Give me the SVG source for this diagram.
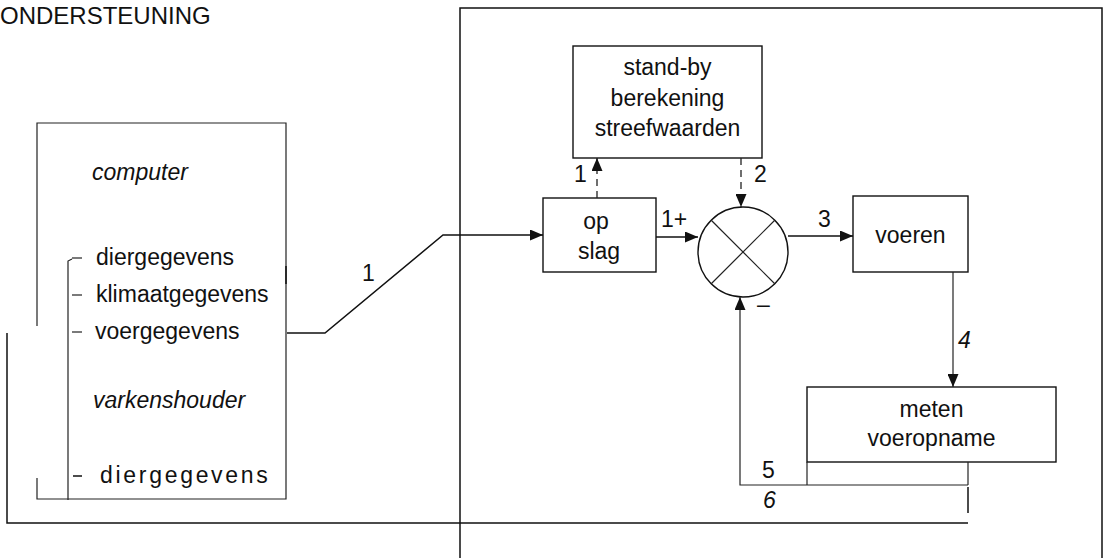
<svg xmlns="http://www.w3.org/2000/svg" width="1107" height="558" viewBox="0 0 1107 558">
  <style>
    .t { font-family: "Liberation Sans", Arial, sans-serif; font-size: 23px; fill: #111; }
    .i { font-style: italic; }
    .c { text-anchor: middle; }
    .box { fill: none; stroke: #111; stroke-width: 1.4; }
    .ln { fill: none; stroke: #111; stroke-width: 1.5; }
    .thin { fill: none; stroke: #222; stroke-width: 1.2; }
    .dash { fill: none; stroke: #222; stroke-width: 1.3; stroke-dasharray: 7 5; }
  </style>
  <defs>
    <marker id="arr" viewBox="0 0 13 11" refX="13" refY="5.5" markerWidth="13" markerHeight="11" markerUnits="userSpaceOnUse" orient="auto">
      <path d="M0,0 L13,5.5 L0,11 Z" fill="#111"/>
    </marker>
  </defs>

  <rect width="1107" height="558" fill="#fff"/>

  <!-- title -->
  <text class="t" x="0" y="24" style="font-size:24px">ONDERSTEUNING</text>

  <!-- process frame -->
  <g id="frame">
    <polyline class="ln" points="460,558 460,8 1102,8 1102,558"/>
  </g>

  <!-- outer return bracket -->
  <g id="outer-bracket">
    <polyline class="ln" points="7,333 7,523 968,523"/>
  </g>

  <!-- computer / farmer data block -->
  <g id="computer">
    <polyline class="thin" points="37,326 37,123 286,123 286,499 37,499 37,478"/>
    <line class="ln" x1="286" y1="266" x2="286" y2="284" stroke-width="2.4"/>
    <polyline class="thin" points="72,259 68,261 68,500"/>
    <text class="t i" x="92" y="180">computer</text>
    <line class="thin" x1="72" y1="258" x2="82" y2="258"/>
    <text class="t" x="96" y="265">diergegevens</text>
    <line class="thin" x1="72" y1="295" x2="82" y2="295"/>
    <text class="t" x="96" y="302">klimaatgegevens</text>
    <line class="thin" x1="72" y1="332" x2="82" y2="332"/>
    <text class="t" x="95" y="339">voergegevens</text>
    <text class="t i" x="93" y="408">varkenshouder</text>
    <line class="ln" x1="73" y1="476" x2="82" y2="476" stroke-width="2"/>
    <text class="t" x="100" y="483" style="letter-spacing:2.7px">diergegevens</text>
  </g>

  <!-- stand-by target computation -->
  <g id="standby">
    <rect class="box" x="573" y="46" width="189" height="112"/>
    <text class="t c" x="667.5" y="75">stand-by</text>
    <text class="t c" x="667.5" y="106">berekening</text>
    <text class="t c" x="667.5" y="136">streefwaarden</text>
  </g>

  <!-- storage -->
  <g id="opslag">
    <rect class="box" x="543" y="198" width="113" height="74"/>
    <text class="t c" x="596" y="229">op</text>
    <text class="t c" x="599" y="259">slag</text>
  </g>

  <!-- comparator -->
  <g id="comparator">
    <circle class="box" cx="743" cy="252" r="45"/>
    <line class="thin" x1="711" y1="220" x2="775" y2="284"/>
    <line class="thin" x1="775" y1="220" x2="711" y2="284"/>
  </g>

  <!-- feeding -->
  <g id="voeren">
    <rect class="box" x="853" y="196" width="115" height="76"/>
    <text class="t c" x="910.5" y="243">voeren</text>
  </g>

  <!-- intake measurement -->
  <g id="meten">
    <rect class="box" x="807" y="387" width="249" height="75"/>
    <text class="t c" x="931.5" y="417">meten</text>
    <text class="t c" x="931.5" y="446">voeropname</text>
    <polyline class="thin" points="807,462 807,485"/>
    <polyline class="thin" points="968,462 968,485"/>
    <line class="ln" x1="968" y1="487" x2="968" y2="513"/>
  </g>

  <!-- connectors -->
  <g id="connectors">
    <polyline class="ln" points="287,333 325,333 443,235 543,235" marker-end="url(#arr)"/>
    <line class="dash" x1="597" y1="198" x2="597" y2="158" marker-end="url(#arr)"/>
    <line class="dash" x1="741" y1="158" x2="741" y2="207" marker-end="url(#arr)"/>
    <line class="ln" x1="656" y1="237" x2="698" y2="237" marker-end="url(#arr)"/>
    <line class="ln" x1="788" y1="236" x2="853" y2="236" marker-end="url(#arr)"/>
    <line class="thin" x1="953" y1="272" x2="953" y2="387" marker-end="url(#arr)"/>
    <polyline class="thin" points="968,485 740,485 740,297" marker-end="url(#arr)"/>
  </g>

  <!-- connector labels -->
  <g id="labels">
    <text class="t" x="362" y="281">1</text>
    <text class="t" x="574" y="182">1</text>
    <text class="t" x="754" y="182">2</text>
    <text class="t" x="661" y="227">1+</text>
    <text class="t" x="818" y="227">3</text>
    <text class="t i" x="958" y="348">4</text>
    <text class="t" x="757" y="312">–</text>
    <text class="t" x="762" y="478">5</text>
    <text class="t i" x="763" y="508">6</text>
  </g>
</svg>
